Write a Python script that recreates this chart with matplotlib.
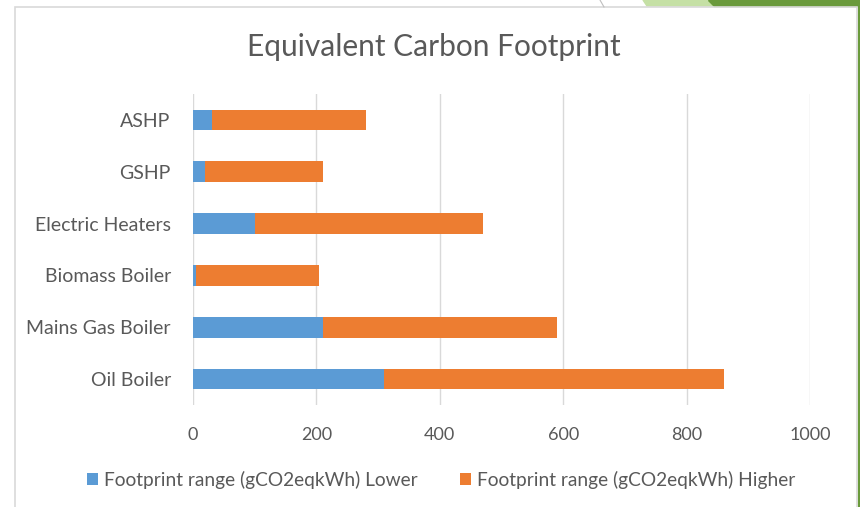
import matplotlib.pyplot as plt
import matplotlib.patches as mpatches
import numpy as np

plt.rcParams['font.family'] = ['Lato', 'DejaVu Sans']

systems = ['ASHP', 'GSHP', 'Electric Heaters', 'Biomass Boiler', 'Mains Gas Boiler', 'Oil Boiler']
lower = [30, 20, 100, 5, 210, 310]
higher = [250, 190, 370, 200, 380, 550]
xticks = [0, 200, 400, 600, 800, 1000]

c_low = '#5B9BD5'
c_high = '#ED7D31'
txt = '#595959'

fig = plt.figure(figsize=(8.6, 5.07), dpi=100)

# slide decoration behind the chart
fig.patches.append(mpatches.Polygon([(643/860, 1), (708/860, 1), (714/860, 1-6/507), (647/860, 1-6/507)],
                                    closed=True, transform=fig.transFigure, color='#C5E0A5', zorder=0))
fig.patches.append(mpatches.Polygon([(708/860, 1), (1, 1), (1, 1-6/507), (714/860, 1-6/507)],
                                    closed=True, transform=fig.transFigure, color='#6A9A3C', zorder=0))
fig.patches.append(mpatches.Rectangle((858/860, 0), 2/860, 1-6/507, transform=fig.transFigure,
                                      color='#6A9A3C', zorder=0))
fig.lines.append(plt.Line2D([600/860, 604/860], [1, 1-7/507], transform=fig.transFigure, color='#BFBFBF', lw=0.8))
# chart area border
fig.patches.append(mpatches.Rectangle((15/860, -0.01), 842/860, 1-7/507+0.01, transform=fig.transFigure,
                                      fill=False, edgecolor='#D9D9D9', lw=1.2, zorder=1))

ax = fig.add_axes([193/860, 1-405/507, 617/860, (405-94)/507])
y = np.arange(len(systems))
ax.barh(y, lower, height=0.4, color=c_low, label='Footprint range (gCO2eqkWh) Lower', zorder=3)
ax.barh(y, higher, left=lower, height=0.4, color=c_high, label='Footprint range (gCO2eqkWh) Higher', zorder=3)

ax.set_xlim(0, 1000)
ax.set_ylim(len(systems)-0.5, -0.5)
ax.set_xticks(xticks)
ax.set_yticks(y)
ax.set_yticklabels(systems)
ax.tick_params(axis='both', length=0, labelcolor=txt)
ax.tick_params(axis='x', pad=16, labelsize=13)
ax.tick_params(axis='y', pad=16, labelsize=14)
ax.grid(axis='x', color='#D9D9D9', lw=1, zorder=0)
for s in ax.spines.values():
    s.set_visible(False)

fig.text(434/860, 1-47/507, 'Equivalent Carbon Footprint', ha='center', va='center', fontsize=21.5, color=txt)

fig.legend(loc='center', bbox_to_anchor=(441/860, 1-480/507), ncol=2, frameon=False,
           fontsize=13.8, labelcolor=txt, handlelength=0.6, handleheight=0.6,
           handletextpad=0.3, columnspacing=2.2)

fig.savefig('out.png', dpi=100)
